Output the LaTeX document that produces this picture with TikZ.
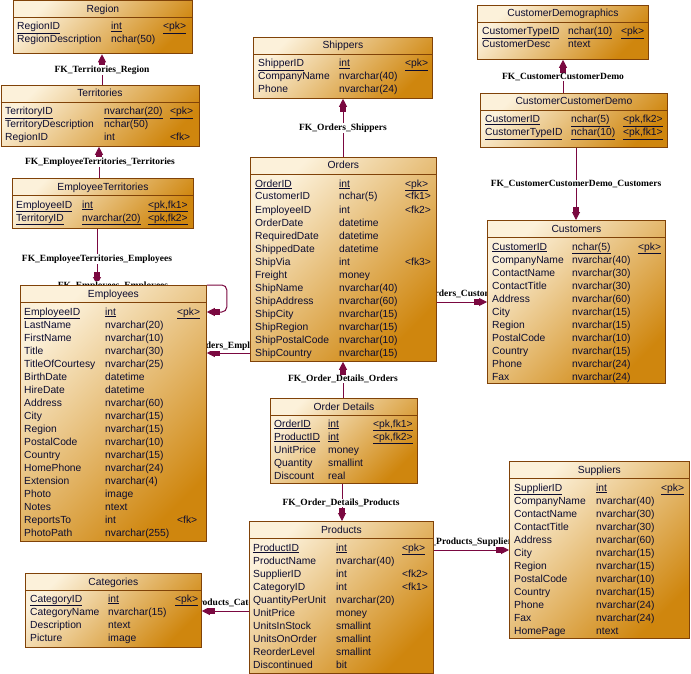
\documentclass[tikz,border=0pt]{standalone}
\usepackage{fontspec}
\setsansfont{Liberation Sans}
\newfontfamily\lblfont{Liberation Serif}
\usepackage{tikz}
\usetikzlibrary{arrows.meta,backgrounds}
\definecolor{lite}{RGB}{252,241,218}
\definecolor{dark}{RGB}{207,134,14}
\definecolor{brd}{RGB}{128,66,8}
\definecolor{fkc}{RGB}{122,8,64}
\definecolor{rowc}{RGB}{12,12,48}
\newcommand\ercols[3]{\def\colA{#1}\def\colB{#2}\def\colC{#3}}
\newcommand\fld[4]{\node[fld] at (\colA,#1+4) {#2};\node[fld] at (\colB,#1+4) {#3};\node[fld] at (\colC,#1+4) {#4};}
\newcommand\pkfld[4]{\fld{#1}{\underline{#2}}{\underline{#3}}{\underline{#4}}}
\newcommand\ertable[6]{%
  \node[tbl, minimum width=#4, minimum height=#5] (#1) at (#2,#3) {};
  \draw[tline] ([yshift=-17pt]#1.north west) -- ([yshift=-17pt]#1.north east);
  \node[ttl] at ([yshift=-12pt]#1.north) {#6};}

\begin{document}
\begin{tikzpicture}[x=1pt,y=-1pt,
  tbl/.style={draw=brd,line width=0.8pt,anchor=north west,inner sep=0pt,
    top color=lite,bottom color=dark,shading angle=45},
  tline/.style={draw=brd,line width=0.8pt},
  ttl/.style={anchor=base,inner sep=0pt,font=\sffamily\fontsize{10.3}{12}\selectfont,text=rowc},
  fld/.style={anchor=base west,inner sep=0pt,font=\sffamily\fontsize{10.3}{12}\selectfont,text=rowc},
  fk/.style={draw=fkc,line width=1pt,-{Square[length=5pt,width=6pt]Triangle[length=8pt,width=8pt]}},
  fklbl/.style={fill=white,inner sep=0.5pt,font=\lblfont\bfseries\fontsize{9.5}{10}\selectfont}]
\useasboundingbox (0,0) rectangle (691,674);

\ertable{Region}{13}{0.5}{179}{53}{Region}
\ercols{17}{111}{163}
\pkfld{26}{RegionID}{int}{<pk>}
\fld{39}{RegionDescription}{nchar(50)}{}

\ertable{Territories}{0.5}{85}{198}{61}{Territories}
\ercols{5}{104}{170}
\pkfld{111}{TerritoryID}{nvarchar(20)}{<pk>}
\fld{124}{TerritoryDescription}{nchar(50)}{}
\fld{137}{RegionID}{int}{<fk>}

\ertable{EmpTerr}{12}{178}{181}{50}{EmployeeTerritories}
\ercols{16}{82}{148}
\pkfld{204}{EmployeeID}{int}{<pk,fk1>}
\pkfld{217}{TerritoryID}{nvarchar(20)}{<pk,fk2>}

\ertable{Employees}{20}{285}{186}{256}{Employees}
\ercols{24}{105}{177}
\pkfld{311}{EmployeeID}{int}{<pk>}
\fld{324}{LastName}{nvarchar(20)}{}
\fld{337}{FirstName}{nvarchar(10)}{}
\fld{350}{Title}{nvarchar(30)}{}
\fld{363}{TitleOfCourtesy}{nvarchar(25)}{}
\fld{376}{BirthDate}{datetime}{}
\fld{389}{HireDate}{datetime}{}
\fld{402}{Address}{nvarchar(60)}{}
\fld{415}{City}{nvarchar(15)}{}
\fld{428}{Region}{nvarchar(15)}{}
\fld{441}{PostalCode}{nvarchar(10)}{}
\fld{454}{Country}{nvarchar(15)}{}
\fld{467}{HomePhone}{nvarchar(24)}{}
\fld{480}{Extension}{nvarchar(4)}{}
\fld{493}{Photo}{image}{}
\fld{506}{Notes}{ntext}{}
\fld{519}{ReportsTo}{int}{<fk>}
\fld{532}{PhotoPath}{nvarchar(255)}{}

\ertable{Shippers}{253}{37}{179}{61}{Shippers}
\ercols{258}{339}{405}
\pkfld{63}{ShipperID}{int}{<pk>}
\fld{76}{CompanyName}{nvarchar(40)}{}
\fld{89}{Phone}{nvarchar(24)}{}

\ertable{Orders}{250}{157}{186}{204}{Orders}
\ercols{255}{339}{405}
\pkfld{183}{OrderID}{int}{<pk>}
\fld{196}{CustomerID}{nchar(5)}{<fk1>}
\fld{209}{EmployeeID}{int}{<fk2>}
\fld{222}{OrderDate}{datetime}{}
\fld{235}{RequiredDate}{datetime}{}
\fld{248}{ShippedDate}{datetime}{}
\fld{261}{ShipVia}{int}{<fk3>}
\fld{274}{Freight}{money}{}
\fld{287}{ShipName}{nvarchar(40)}{}
\fld{300}{ShipAddress}{nvarchar(60)}{}
\fld{313}{ShipCity}{nvarchar(15)}{}
\fld{326}{ShipRegion}{nvarchar(15)}{}
\fld{339}{ShipPostalCode}{nvarchar(10)}{}
\fld{352}{ShipCountry}{nvarchar(15)}{}

\ertable{CustDemo}{477}{5}{171}{54}{CustomerDemographics}
\ercols{482}{568}{621}
\pkfld{31}{CustomerTypeID}{nchar(10)}{<pk>}
\fld{44}{CustomerDesc}{ntext}{}

\ertable{CustCustDemo}{480}{93}{187}{54}{CustomerCustomerDemo}
\ercols{485}{571}{623}
\pkfld{119}{CustomerID}{nchar(5)}{<pk,fk2>}
\pkfld{132}{CustomerTypeID}{nchar(10)}{<pk,fk1>}

\ertable{Customers}{487}{220}{178}{163}{Customers}
\ercols{492}{572}{638}
\pkfld{246}{CustomerID}{nchar(5)}{<pk>}
\fld{259}{CompanyName}{nvarchar(40)}{}
\fld{272}{ContactName}{nvarchar(30)}{}
\fld{285}{ContactTitle}{nvarchar(30)}{}
\fld{298}{Address}{nvarchar(60)}{}
\fld{311}{City}{nvarchar(15)}{}
\fld{324}{Region}{nvarchar(15)}{}
\fld{337}{PostalCode}{nvarchar(10)}{}
\fld{350}{Country}{nvarchar(15)}{}
\fld{363}{Phone}{nvarchar(24)}{}
\fld{376}{Fax}{nvarchar(24)}{}

\ertable{OrderDetails}{270}{398}{147}{85}{Order Details}
\ercols{274}{328}{373}
\pkfld{423}{OrderID}{int}{<pk,fk1>}
\pkfld{436}{ProductID}{int}{<pk,fk2>}
\fld{449}{UnitPrice}{money}{}
\fld{462}{Quantity}{smallint}{}
\fld{475}{Discount}{real}{}

\ertable{Products}{249}{521}{184}{152}{Products}
\ercols{253}{336}{402}
\pkfld{547}{ProductID}{int}{<pk>}
\fld{560}{ProductName}{nvarchar(40)}{}
\fld{573}{SupplierID}{int}{<fk2>}
\fld{586}{CategoryID}{int}{<fk1>}
\fld{599}{QuantityPerUnit}{nvarchar(20)}{}
\fld{612}{UnitPrice}{money}{}
\fld{625}{UnitsInStock}{smallint}{}
\fld{638}{UnitsOnOrder}{smallint}{}
\fld{651}{ReorderLevel}{smallint}{}
\fld{664}{Discontinued}{bit}{}

\ertable{Suppliers}{509}{461}{180}{177}{Suppliers}
\ercols{514}{596}{661}
\pkfld{487}{SupplierID}{int}{<pk>}
\fld{500}{CompanyName}{nvarchar(40)}{}
\fld{513}{ContactName}{nvarchar(30)}{}
\fld{526}{ContactTitle}{nvarchar(30)}{}
\fld{539}{Address}{nvarchar(60)}{}
\fld{552}{City}{nvarchar(15)}{}
\fld{565}{Region}{nvarchar(15)}{}
\fld{578}{PostalCode}{nvarchar(10)}{}
\fld{591}{Country}{nvarchar(15)}{}
\fld{604}{Phone}{nvarchar(24)}{}
\fld{617}{Fax}{nvarchar(24)}{}
\fld{630}{HomePage}{ntext}{}

\ertable{Categories}{25}{573}{176}{74}{Categories}
\ercols{30}{108}{175}
\pkfld{598}{CategoryID}{int}{<pk>}
\fld{611}{CategoryName}{nvarchar(15)}{}
\fld{624}{Description}{ntext}{}
\fld{637}{Picture}{image}{}

\begin{scope}[on background layer]
\fill[white] (0,0) rectangle (691,674);
\draw[fk] (Territories.north -| 102,0) -- (Region.south -| 102,0);
\draw[fk] (EmpTerr.north -| 99,0) -- (Territories.south -| 99,0);
\draw[fk] (EmpTerr.south -| 97,0) -- (Employees.north -| 97,0);
\draw[fk,rounded corners=5pt] (Employees.north east) -- ++(20,0) -- ++(0,27) -- (Employees.east |- 0,312);
\draw[fk] (Orders.west |- 0,353) -- (Employees.east |- 0,353);
\draw[fk] (Orders.north -| 343,0) -- (Shippers.south -| 343,0);
\draw[fk] (Orders.east |- 0,302) -- (Customers.west |- 0,302);
\draw[fk] (OrderDetails.north -| 343,0) -- (Orders.south -| 343,0);
\draw[fk] (OrderDetails.south -| 342,0) -- (Products.north -| 342,0);
\draw[fk] (Products.east |- 0,550) -- (Suppliers.west |- 0,550);
\draw[fk] (Products.west |- 0,611) -- (Categories.east |- 0,611);
\draw[fk] (CustCustDemo.north -| 563,0) -- (CustDemo.south -| 563,0);
\draw[fk] (CustCustDemo.south -| 576,0) -- (Customers.north -| 576,0);
\node[fklbl] at (102,70) {FK\_Territories\_Region};
\node[fklbl] at (100,162) {FK\_EmployeeTerritories\_Territories};
\node[fklbl] at (97,259) {FK\_EmployeeTerritories\_Employees};
\node[fklbl] at (113,286) {FK\_Employees\_Employees};
\node[fklbl] at (224,346) {FK\_Orders\_Employees};
\node[fklbl] at (343,128) {FK\_Orders\_Shippers};
\node[fklbl] at (457,294) {FK\_Orders\_Customers};
\node[fklbl] at (467,542) {FK\_Products\_Suppliers};
\node[fklbl] at (343,379) {FK\_Order\_Details\_Orders};
\node[fklbl] at (341,503) {FK\_Order\_Details\_Products};
\node[fklbl] at (226,603) {FK\_Products\_Categories};
\node[fklbl] at (563,77) {FK\_CustomerCustomerDemo};
\node[fklbl] at (576,184) {FK\_CustomerCustomerDemo\_Customers};
\end{scope}
\end{tikzpicture}
\end{document}
